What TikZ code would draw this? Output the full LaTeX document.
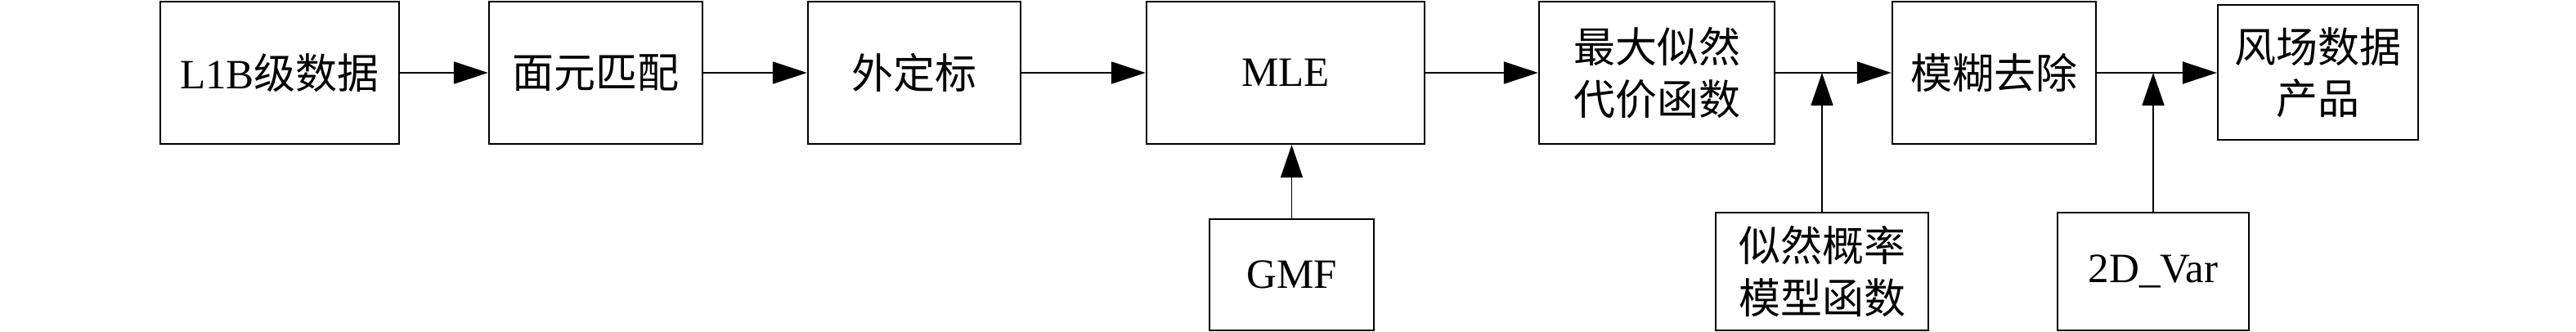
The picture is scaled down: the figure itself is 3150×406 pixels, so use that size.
\documentclass[tikz,border=0pt]{standalone}
\usepackage{fontspec}
\setmainfont{Liberation Serif}
\newfontfamily\cjk{Noto Sans CJK SC}
\usetikzlibrary{arrows.meta}
\tikzset{
  blk/.style={draw, line width=0.022cm, inner sep=0pt, align=center,
    font=\fontsize{14.5pt}{18pt}\selectfont},
  flow/.style={line width=0.022cm, -{Triangle[length=0.42cm, width=0.27cm]}},
  feed/.style={line width=0.016cm, -{Triangle[length=0.40cm, width=0.27cm]}}
}
\begin{document}
\begin{tikzpicture}[x=0.01cm, y=-0.01cm]
\useasboundingbox (0,0) rectangle (3150,406);
\node[blk, minimum width=2.92cm, minimum height=1.74cm] (a) at (342,89) {L1B{\cjk 级数据}};
\node[blk, minimum width=2.61cm, minimum height=1.74cm] (b) at (728.5,89) {\cjk 面元匹配};
\node[blk, minimum width=2.60cm, minimum height=1.74cm] (c) at (1118,89) {\cjk 外定标};
\node[blk, minimum width=3.40cm, minimum height=1.74cm] (d) at (1572,89) {MLE};
\node[blk, minimum width=2.88cm, minimum height=1.74cm] (e) at (2026,89) {\cjk 最大似然\\\cjk 代价函数};
\node[blk, minimum width=2.49cm, minimum height=1.74cm] (f) at (2438.5,89) {\cjk 模糊去除};
\node[blk, minimum width=2.45cm, minimum height=1.65cm] (g) at (2834.5,88.5) {\cjk 风场数据\\\cjk 产品};
\node[blk, minimum width=2.01cm, minimum height=1.36cm] (h) at (1579.5,336) {GMF};
\node[blk, minimum width=2.60cm, minimum height=1.44cm] (i) at (2228,332) {\cjk 似然概率\\\cjk 模型函数};
\node[blk, minimum width=2.34cm, minimum height=1.44cm] (j) at (2633,332) {2D\_Var};
\coordinate (jh) at (h.north |- d.south);
\coordinate (ji) at (i.north |- e.east);
\coordinate (jj) at (j.north |- f.east);
\draw[flow] (a) -- (b);
\draw[flow] (b) -- (c);
\draw[flow] (c) -- (d);
\draw[flow] (d) -- (e);
\draw[flow] (e) -- (f);
\draw[flow] (f) -- (g.west |- f.east);
\draw[feed] (h) -- (jh);
\draw[feed] (i) -- (ji);
\draw[feed] (j) -- (jj);
\end{tikzpicture}
\end{document}
